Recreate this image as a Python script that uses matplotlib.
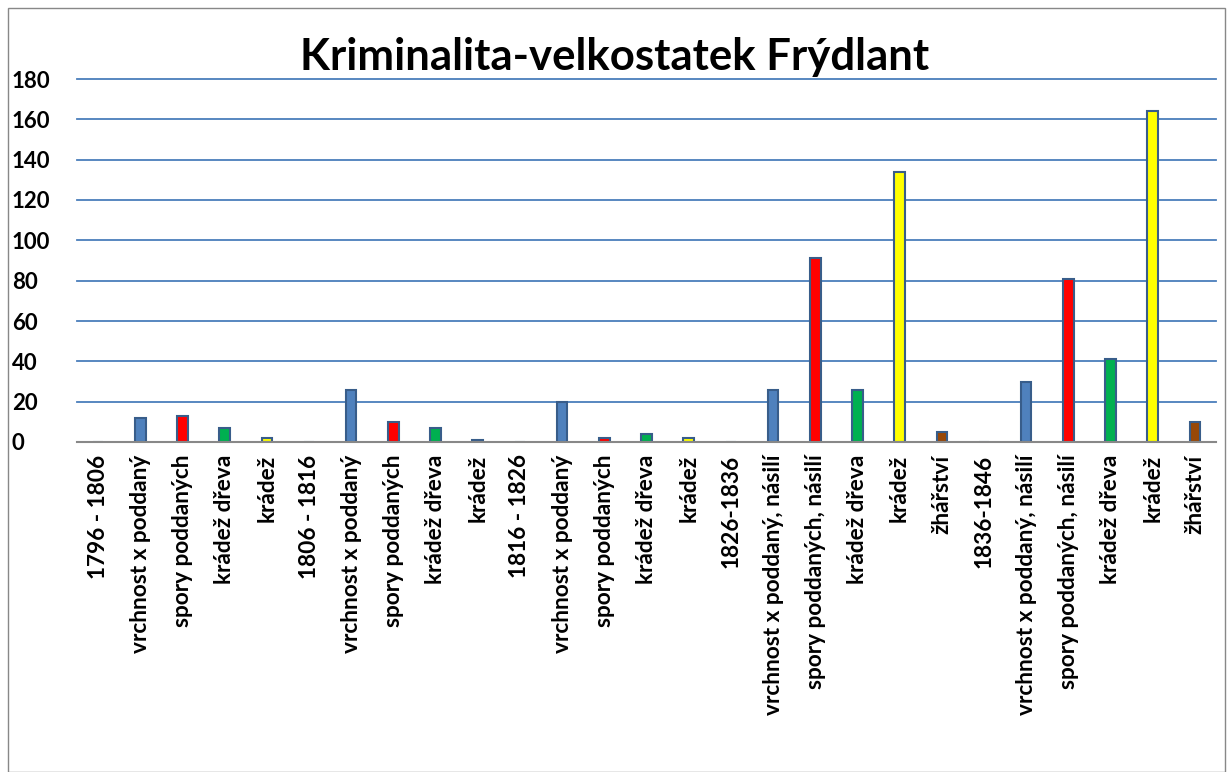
import matplotlib
matplotlib.use("Agg")
import matplotlib.pyplot as plt
from matplotlib.patches import Rectangle

categories = [
    "1796 - 1806", "vrchnost x poddaný", "spory poddaných", "krádež dřeva", "krádež",
    "1806 - 1816", "vrchnost x poddaný", "spory poddaných", "krádež dřeva", "krádež",
    "1816 - 1826", "vrchnost x poddaný", "spory poddaných", "krádež dřeva", "krádež",
    "1826-1836", "vrchnost x poddaný, násilí", "spory poddaných, násilí", "krádež dřeva", "krádež", "žhářství",
    "1836-1846", "vrchnost x poddaný, násilí", "spory poddaných, násilí", "krádež dřeva", "krádež", "žhářství",
]
values = [
    0, 12, 13, 7, 2,
    0, 26, 10, 7, 1,
    0, 20, 2, 4, 2,
    0, 26, 91, 26, 134, 5,
    0, 30, 81, 41, 164, 10,
]
BLUE, RED, GREEN, YELLOW, BROWN = "#4f81bd", "#ff0000", "#00b050", "#ffff00", "#984807"
colors = [
    BLUE, BLUE, RED, GREEN, YELLOW,
    BLUE, BLUE, RED, GREEN, YELLOW,
    BLUE, BLUE, RED, GREEN, YELLOW,
    BLUE, BLUE, RED, GREEN, YELLOW, BROWN,
    BLUE, BLUE, RED, GREEN, YELLOW, BROWN,
]
yticks = [0, 20, 40, 60, 80, 100, 120, 140, 160, 180]

plt.rcParams['font.family'] = ['Lato', 'DejaVu Sans']

W, H = 1227, 772
fig = plt.figure(figsize=(W / 100, H / 100), dpi=100)
fig.patches.append(Rectangle((8 / W, 0), (1225 - 8) / W, (H - 8) / H, transform=fig.transFigure,
                             fill=False, edgecolor="#888888", linewidth=1.0))

ax = fig.add_axes([77 / W, 1 - 442 / H, (1216 - 77) / W, (442 - 79) / H])
x = list(range(len(categories)))
ax.bar(x, values, width=0.25, color=colors, edgecolor="#385d8a", linewidth=1.5, zorder=3)

ax.set_xlim(-0.5, len(categories) - 0.5)
ax.set_ylim(0, 180)
ax.set_yticks(yticks)
ax.set_yticklabels([str(v) for v in yticks], fontsize=16, fontweight="bold")
ax.set_xticks(x)
ax.set_xticklabels(categories, rotation=90, fontsize=16.3, fontweight="bold")
ax.tick_params(axis="both", length=0)
ax.tick_params(axis="x", pad=9)
for lbl in ax.get_yticklabels():
    lbl.set_horizontalalignment("left")
ax.yaxis.set_tick_params(pad=47)

ax.grid(axis="y", color="#4a7ebb", linewidth=1.3, zorder=0)
for gl in ax.get_ygridlines():
    gl.set_clip_on(False)
for s in ["left", "right", "top"]:
    ax.spines[s].set_visible(False)
ax.spines["bottom"].set_color("#888888")
ax.spines["bottom"].set_linewidth(1.5)
ax.spines["bottom"].set_zorder(4)

fig.text(615 / W, 1 - 57 / H, "Kriminalita-velkostatek Frýdlant", ha="center", va="center",
         fontsize=31.5, fontweight="bold")

fig.savefig("out.png", dpi=100)
